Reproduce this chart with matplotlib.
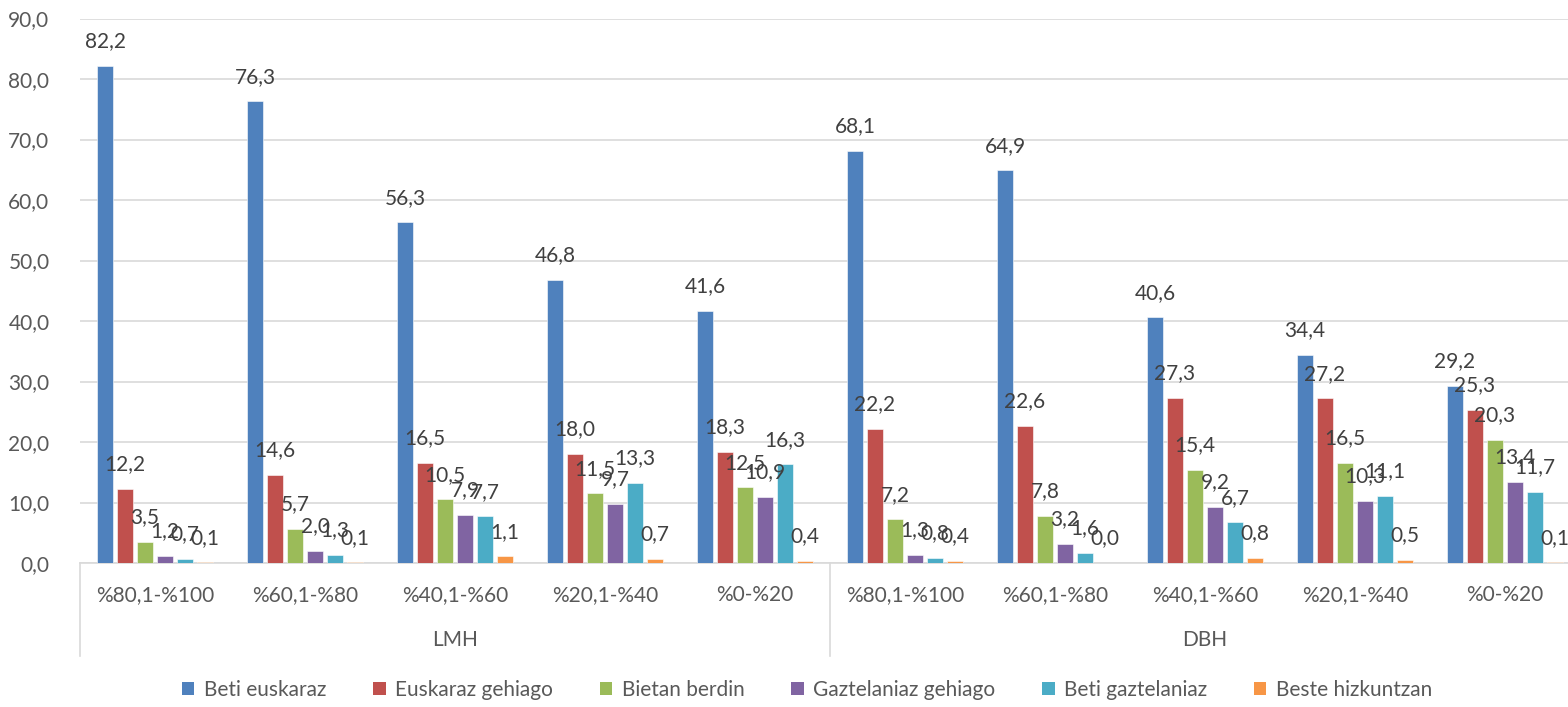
import matplotlib
matplotlib.use("Agg")
import matplotlib.pyplot as plt
import matplotlib.transforms as mtransforms
from matplotlib.patches import Patch

plt.rcParams['font.family'] = ['Lato', 'DejaVu Sans']

categories = ["%80,1-%100", "%60,1-%80", "%40,1-%60", "%20,1-%40", "%0-%20",
              "%80,1-%100", "%60,1-%80", "%40,1-%60", "%20,1-%40", "%0-%20"]
groups = ["LMH", "DBH"]
series_names = ["Beti euskaraz", "Euskaraz gehiago", "Bietan berdin",
                "Gaztelaniaz gehiago", "Beti gaztelaniaz", "Beste hizkuntzan"]

beti_euskaraz = [82.2, 76.3, 56.3, 46.8, 41.6, 68.1, 64.9, 40.6, 34.4, 29.2]
euskaraz_gehiago = [12.2, 14.6, 16.5, 18.0, 18.3, 22.2, 22.6, 27.3, 27.2, 25.3]
bietan_berdin = [3.5, 5.7, 10.5, 11.5, 12.5, 7.2, 7.8, 15.4, 16.5, 20.3]
gaztelaniaz_gehiago = [1.2, 2.0, 7.9, 9.7, 10.9, 1.3, 3.2, 9.2, 10.3, 13.4]
beti_gaztelaniaz = [0.7, 1.3, 7.7, 13.3, 16.3, 0.8, 1.6, 6.7, 11.1, 11.7]
beste_hizkuntzan = [0.1, 0.1, 1.1, 0.7, 0.4, 0.4, 0.0, 0.8, 0.5, 0.1]

yticks = [0, 10, 20, 30, 40, 50, 60, 70, 80, 90]

series = [beti_euskaraz, euskaraz_gehiago, bietan_berdin,
          gaztelaniaz_gehiago, beti_gaztelaniaz, beste_hizkuntzan]
colors = ["#4F81BD", "#C0504D", "#9BBB59", "#8064A2", "#4BACC6", "#F79646"]

FS = 15
W, H = 1568, 707
fig = plt.figure(figsize=(W / 100, H / 100), dpi=100)
ax_left, ax_right = 80, 1580
ax_top, ax_bottom = 18.5, 563
ax = fig.add_axes([ax_left / W, (H - ax_bottom) / H,
                   (ax_right - ax_left) / W, (ax_bottom - ax_top) / H])

n = len(categories)
slot = 20 / 150
bw = 16 / 150
for j, (vals, col) in enumerate(zip(series, colors)):
    xs = [i + (j - 2.5) * slot for i in range(n)]
    ax.bar(xs, vals, width=bw, color=col, edgecolor='white', linewidth=0.4, zorder=3)
    for x, v in zip(xs, vals):
        ax.annotate(f"{v:.1f}".replace('.', ','), (x, v), xytext=(0, 13.5),
                    textcoords='offset points', ha='center', va='baseline',
                    fontsize=FS, color='#404040', zorder=4)

ax.set_xlim(-0.5, n - 0.5)
ax.set_ylim(0, 90)
ax.set_yticks(yticks)
ax.set_yticklabels([f"{t:.1f}".replace('.', ',') for t in yticks])
ax.tick_params(axis='y', length=0, pad=22, labelsize=FS, labelcolor='#595959')
ax.set_xticks([])
ax.grid(axis='y', color='#d9d9d9', linewidth=1.2, zorder=0)
for s in ['top', 'right', 'left']:
    ax.spines[s].set_visible(False)
ax.spines['bottom'].set_color('#d9d9d9')
ax.spines['bottom'].set_linewidth(1.2)

trans = mtransforms.blended_transform_factory(ax.transData, ax.transAxes)
ph = ax_bottom - ax_top
cat_y = -(595 - ax_bottom) / ph
grp_y = -(640 - ax_bottom) / ph
line_y = -(656 - ax_bottom) / ph
for i, c in enumerate(categories):
    ax.text(i, cat_y, c, transform=trans, ha='center', va='center',
            fontsize=FS, color='#595959')
for g, name in enumerate(groups):
    ax.text(g * 5 + 2, grp_y, name, transform=trans, ha='center', va='center',
            fontsize=FS, color='#595959')
for xb in [-0.5, 4.5, 9.5]:
    ax.plot([xb, xb], [0, line_y], transform=trans, color='#d9d9d9',
            linewidth=1.2, clip_on=False)

handles = [Patch(facecolor=c, edgecolor='none') for c in colors]
fig.legend(handles, series_names, loc='center', bbox_to_anchor=(807 / W, (H - 690) / H),
           ncol=6, frameon=False, fontsize=FS, handlelength=0.6, handleheight=0.6,
           handletextpad=0.45, columnspacing=2.25, labelcolor='#595959')

fig.savefig("out.png", dpi=100)
